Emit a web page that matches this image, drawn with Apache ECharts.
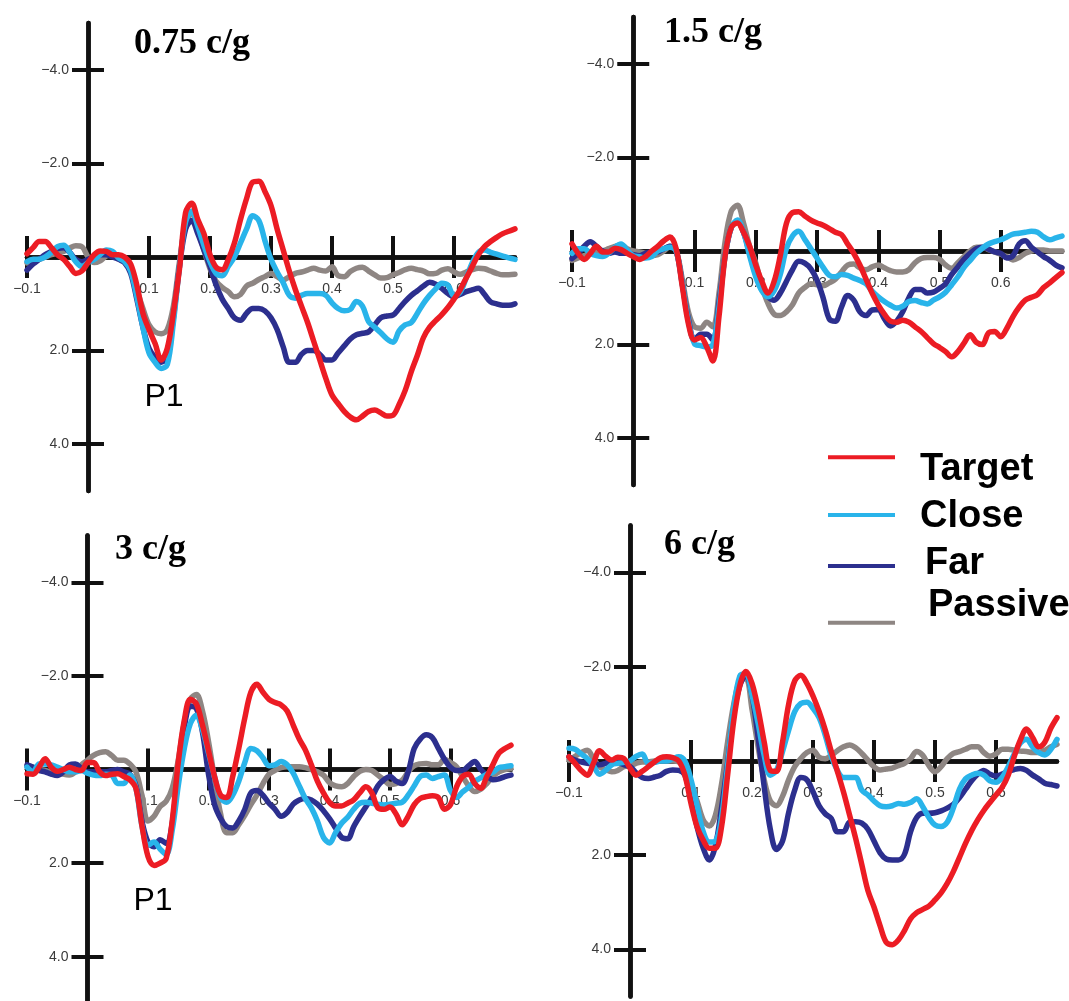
<!DOCTYPE html>
<html><head><meta charset="utf-8">
<script src="https://cdn.jsdelivr.net/npm/echarts@6/dist/echarts.min.js"></script>
<style>html,body{margin:0;padding:0;background:#fff}#c{width:1069px;height:1001px}</style>
</head><body><div id="c"></div>
<script>
// ---------------- DATA ----------------
const times = [-0.1,-0.09,-0.08,-0.07,-0.06,-0.05,-0.04,-0.03,-0.02,-0.01,
  0,0.01,0.02,0.03,0.04,0.05,0.06,0.07,0.08,0.09,
  0.1,0.11,0.12,0.13,0.14,0.15,0.16,0.17,0.18,0.19,
  0.2,0.21,0.22,0.23,0.24,0.25,0.26,0.27,0.28,0.29,
  0.3,0.31,0.32,0.33,0.34,0.35,0.36,0.37,0.38,0.39,
  0.4,0.41,0.42,0.43,0.44,0.45,0.46,0.47,0.48,0.49,
  0.5,0.51,0.52,0.53,0.54,0.55,0.56,0.57,0.58,0.59,
  0.6,0.61,0.62,0.63,0.64,0.65,0.66,0.67,0.68,0.69,
  0.7];
const xTickValues = [-0.1,0.1,0.2,0.3,0.4,0.5,0.6];
const yTickValues = [-4,-2,2,4];
const panelTitles = ['0.75 c/g','1.5 c/g','3 c/g','6 c/g'];
const seriesNames = ['Target','Close','Far','Passive'];
const peakLabel = 'P1';

// 0.75 c/g
const target075 = [-0.07,-0.2,-0.33,-0.33,-0.2,-0.05,0.05,0.2,0.35,0.3,
  0.12,-0.05,-0.13,-0.12,-0.05,-0.05,0.0,0.15,0.6,1.2,
  1.55,1.85,2.2,1.95,1.2,0.25,-0.95,-1.15,-0.8,-0.5,
  -0.05,0.22,0.27,0.05,-0.3,-0.8,-1.25,-1.6,-1.62,-1.4,
  -1.1,-0.6,-0.15,0.3,0.7,1.05,1.4,1.8,2.2,2.6,
  2.95,3.13,3.3,3.42,3.48,3.4,3.3,3.27,3.33,3.4,
  3.38,3.15,2.85,2.45,2.1,1.72,1.5,1.36,1.23,1.08,
  0.9,0.7,0.45,0.2,-0.05,-0.22,-0.33,-0.42,-0.5,-0.55,
  -0.6];
const close075 = [0.1,0.05,0.05,0.0,-0.1,-0.22,-0.25,-0.1,0.1,0.2,
  0.12,0.05,-0.05,-0.15,-0.12,0.02,0.1,0.3,0.85,1.5,
  2.05,2.25,2.38,2.3,1.4,0.2,-0.75,-0.98,-0.65,-0.25,
  0.1,0.35,0.4,0.2,0.0,-0.3,-0.6,-0.88,-0.78,-0.35,
  0.05,0.32,0.55,0.82,0.88,0.82,0.78,0.78,0.78,0.82,
  0.98,1.1,1.15,1.12,0.95,1.05,1.38,1.5,1.62,1.75,
  1.82,1.58,1.45,1.4,1.2,0.99,0.82,0.68,0.56,0.6,
  0.83,0.75,0.45,0.12,-0.1,-0.15,-0.1,-0.06,-0.02,0.02,
  0.05];
const far075 = [0.28,0.15,0.05,-0.05,-0.12,-0.18,-0.2,-0.1,0.05,0.1,
  0.05,0.0,-0.05,-0.05,0.0,0.05,0.12,0.35,0.9,1.5,
  1.95,2.15,2.25,2.1,1.3,0.2,-0.6,-0.78,-0.5,-0.15,
  0.2,0.6,0.9,1.1,1.3,1.35,1.2,1.1,1.1,1.15,
  1.3,1.55,1.92,2.25,2.25,2.08,2.0,2.0,2.08,2.2,
  2.2,2.05,1.9,1.75,1.66,1.63,1.6,1.45,1.3,1.26,
  1.24,1.1,0.95,0.82,0.72,0.62,0.54,0.58,0.67,0.78,
  0.85,0.8,0.74,0.7,0.67,0.8,0.96,1.0,1.03,1.03,
  1.0];
const passive075 = [0.13,0.1,0.05,0.0,-0.05,-0.08,-0.12,-0.19,-0.24,-0.22,
  0.0,0.12,0.08,-0.02,-0.05,0.0,0.1,0.3,0.7,1.1,
  1.45,1.6,1.64,1.55,1.05,0.1,-0.7,-0.95,-0.6,-0.15,
  0.25,0.52,0.65,0.74,0.85,0.8,0.62,0.56,0.48,0.42,
  0.35,0.42,0.49,0.42,0.35,0.32,0.28,0.24,0.28,0.3,
  0.21,0.4,0.42,0.31,0.24,0.22,0.3,0.38,0.45,0.44,
  0.38,0.33,0.27,0.24,0.27,0.3,0.36,0.35,0.28,0.25,
  0.32,0.37,0.32,0.27,0.24,0.25,0.3,0.35,0.38,0.38,
  0.37];

// 1.5 c/g
const target15 = [-0.15,0.05,0.18,0.05,-0.1,0.02,0.02,-0.06,-0.03,0.05,
  0.12,0.18,0.12,0.0,-0.1,-0.22,-0.3,-0.05,0.75,1.55,
  1.9,1.85,2.05,2.35,1.4,0.1,-0.5,-0.6,-0.4,-0.1,
  0.3,0.65,0.9,0.65,0.1,-0.59,-0.82,-0.84,-0.75,-0.66,
  -0.6,-0.55,-0.48,-0.4,-0.35,-0.15,0.05,0.3,0.6,0.9,
  1.15,1.35,1.5,1.52,1.48,1.52,1.62,1.72,1.85,1.98,
  2.06,2.15,2.26,2.15,1.97,1.79,1.95,2.0,1.75,1.72,
  1.83,1.65,1.4,1.2,1.05,0.99,0.93,0.78,0.68,0.57,
  0.46];
const close15 = [0.05,-0.05,-0.05,0.05,0.1,0.12,0.05,-0.08,-0.15,-0.02,
  0.1,0.12,0.15,0.12,0.0,-0.05,-0.08,0.0,0.7,1.5,
  1.98,2.02,2.05,2.0,1.2,0.1,-0.5,-0.66,-0.4,0.1,
  0.55,0.85,0.98,0.85,0.5,-0.05,-0.32,-0.42,-0.25,-0.05,
  0.15,0.35,0.52,0.55,0.5,0.52,0.58,0.63,0.7,0.86,
  0.98,1.08,1.16,1.22,1.18,1.08,1.06,1.1,1.13,1.05,
  0.98,0.88,0.72,0.55,0.35,0.2,0.05,-0.06,-0.15,-0.2,
  -0.24,-0.3,-0.36,-0.38,-0.4,-0.42,-0.4,-0.3,-0.24,-0.28,
  -0.32];
const far15 = [0.16,0.05,-0.1,-0.2,-0.1,0.0,0.05,0.02,0.05,0.05,
  0.08,0.1,0.05,0.02,0.02,-0.05,-0.1,0.0,0.7,1.45,
  1.9,1.78,1.78,1.9,1.1,0.1,-0.5,-0.62,-0.4,0.05,
  0.5,0.82,0.98,1.05,0.9,0.65,0.4,0.22,0.26,0.38,
  0.62,1.0,1.45,1.5,1.2,0.95,1.05,1.3,1.38,1.26,
  1.25,1.45,1.6,1.5,1.3,1.0,0.82,0.82,0.9,0.88,
  0.8,0.7,0.5,0.34,0.18,0.05,-0.05,-0.08,-0.04,0.02,
  0.05,0.15,0.1,-0.15,-0.22,-0.08,0.02,0.12,0.2,0.3,
  0.36];
const passive15 = [0.2,0.15,0.1,0.05,0.02,0.0,-0.05,-0.1,-0.13,-0.05,
  0.0,0.02,0.05,0.1,0.08,0.0,-0.1,0.0,0.6,1.3,
  1.62,1.65,1.52,1.62,0.9,-0.2,-0.85,-0.98,-0.6,-0.1,
  0.25,0.75,1.12,1.35,1.38,1.3,1.15,0.9,0.78,0.7,
  0.72,0.74,0.68,0.6,0.45,0.3,0.28,0.36,0.4,0.34,
  0.3,0.36,0.42,0.45,0.45,0.4,0.25,0.16,0.14,0.14,
  0.18,0.3,0.37,0.25,0.12,0.0,-0.08,-0.08,-0.03,0.02,
  0.07,0.12,0.19,0.14,0.05,0.0,-0.02,-0.02,0.0,0.0,
  0.0];

// 3 c/g
const target3 = [0.09,0.1,-0.05,-0.23,-0.05,0.04,0.0,-0.05,0.0,0.02,
  -0.15,-0.15,0.05,0.13,0.1,0.09,0.15,0.22,0.4,1.2,
  1.86,2.05,2.0,1.9,1.1,-0.15,-1.05,-1.5,-1.4,-0.95,
  -0.4,0.15,0.55,0.6,0.15,-0.45,-1.1,-1.65,-1.82,-1.65,
  -1.5,-1.43,-1.38,-1.25,-0.95,-0.65,-0.42,-0.1,0.25,0.5,
  0.7,0.78,0.78,0.72,0.65,0.5,0.37,0.5,0.82,0.85,
  0.8,0.95,1.18,1.0,0.75,0.62,0.58,0.56,0.6,0.85,
  0.75,0.37,0.15,0.1,0.3,0.4,0.15,-0.1,-0.35,-0.45,
  -0.52];
const close3 = [-0.05,0.05,-0.12,-0.12,-0.1,-0.05,0.0,0.05,0.05,0.02,
  0.08,0.12,0.13,0.1,0.12,0.3,0.3,0.12,0.4,1.2,
  1.62,1.55,1.7,1.82,1.3,0.35,-0.45,-0.98,-1.16,-0.85,
  -0.35,0.15,0.6,0.7,0.55,0.25,-0.15,-0.45,-0.4,-0.25,
  -0.08,-0.1,-0.17,-0.1,0.08,0.35,0.62,0.82,1.1,1.45,
  1.57,1.35,1.15,1.02,0.85,0.72,0.7,0.72,0.74,0.76,
  0.74,0.72,0.7,0.55,0.35,0.15,0.12,0.19,0.15,0.12,
  0.45,0.6,0.48,0.38,0.25,0.18,0.1,0.06,-0.04,-0.06,
  -0.08];
const far3 = [-0.1,-0.05,0.02,0.05,0.1,0.13,0.05,-0.1,-0.12,-0.02,
  0.05,0.05,0.05,0.05,0.02,0.0,0.05,0.1,0.35,1.1,
  1.55,1.65,1.5,1.58,1.15,0.0,-0.9,-1.35,-1.3,-0.8,
  0.1,0.75,1.05,1.22,1.25,1.1,0.85,0.5,0.45,0.55,
  0.72,0.85,1.0,0.92,0.74,0.65,0.62,0.65,0.74,0.88,
  1.05,1.25,1.45,1.48,1.22,1.0,0.8,0.6,0.35,0.22,
  0.15,0.25,0.3,0.05,-0.45,-0.65,-0.74,-0.68,-0.45,-0.22,
  -0.05,0.02,0.02,-0.08,-0.17,0.0,0.12,0.22,0.2,0.15,
  0.12];
const passive3 = [-0.06,-0.05,0.0,0.02,0.05,0.05,0.1,0.12,0.05,-0.1,
  -0.2,-0.3,-0.36,-0.38,-0.3,-0.2,-0.2,-0.12,0.05,0.55,
  1.1,1.0,0.79,0.68,0.4,-0.2,-1.0,-1.5,-1.6,-1.25,
  -0.6,0.2,0.95,1.35,1.35,1.18,0.98,0.75,0.55,0.3,
  0.1,0.02,-0.04,-0.06,-0.06,-0.06,-0.04,0.0,0.05,0.12,
  0.28,0.35,0.37,0.3,0.15,0.04,0.0,0.02,0.12,0.22,
  0.32,0.3,0.23,0.05,-0.08,-0.12,-0.13,-0.1,-0.1,-0.22,
  -0.15,-0.06,0.15,0.35,0.47,0.42,0.3,0.14,0.05,0.0,
  -0.02];

// 6 c/g
const target6 = [-0.09,0.05,0.2,0.3,0.05,-0.22,-0.1,-0.02,-0.08,-0.05,
  0.15,0.3,0.22,0.12,0.02,-0.07,-0.09,-0.07,0.0,0.3,
  0.9,1.4,1.68,1.85,1.85,1.4,0.3,-0.85,-1.6,-1.9,
  -1.65,-1.1,-0.4,0.2,0.22,-0.4,-1.2,-1.7,-1.82,-1.65,
  -1.38,-1.05,-0.66,-0.2,0.22,0.66,1.15,1.65,2.2,2.75,
  3.1,3.5,3.85,3.9,3.8,3.6,3.35,3.22,3.15,3.08,
  2.95,2.8,2.6,2.35,2.05,1.75,1.48,1.25,1.05,0.88,
  0.72,0.56,0.3,-0.1,-0.45,-0.68,-0.5,-0.3,-0.4,-0.7,
  -0.92];
const close6 = [-0.27,-0.25,-0.15,-0.05,0.1,0.28,0.2,0.08,0.05,0.03,
  0.0,-0.1,-0.15,0.05,0.03,0.0,0.0,-0.05,-0.09,0.0,
  0.4,0.95,1.5,1.72,1.7,1.2,0.1,-1.1,-1.8,-1.85,
  -1.4,-0.8,-0.12,0.3,0.2,-0.2,-0.65,-1.05,-1.22,-1.25,
  -1.12,-0.92,-0.55,-0.1,0.2,0.35,0.35,0.35,0.62,0.72,
  0.85,0.95,0.97,0.95,0.9,0.92,0.88,0.8,0.97,1.2,
  1.36,1.39,1.3,1.0,0.6,0.38,0.3,0.26,0.3,0.42,
  0.45,0.35,0.12,-0.15,-0.38,-0.46,-0.3,-0.18,-0.13,-0.25,
  -0.46];
const far6 = [-0.09,-0.02,0.02,0.05,0.06,0.08,0.05,0.0,0.02,0.08,
  0.12,0.25,0.35,0.37,0.34,0.3,0.22,0.19,0.2,0.3,
  0.8,1.4,1.85,2.1,1.8,1.0,0.05,-1.0,-1.6,-1.83,
  -1.4,-0.5,0.55,1.45,1.88,1.7,1.1,0.62,0.35,0.4,
  0.65,0.95,1.12,1.22,1.5,1.5,1.3,1.29,1.32,1.45,
  1.7,1.95,2.08,2.1,2.1,1.98,1.5,1.2,1.11,1.11,
  1.1,1.06,1.0,0.92,0.78,0.6,0.42,0.28,0.2,0.28,
  0.32,0.28,0.22,0.18,0.16,0.2,0.3,0.38,0.47,0.5,
  0.53];
const passive6 = [-0.02,-0.1,-0.18,-0.23,-0.05,0.12,0.18,0.23,0.2,0.12,
  0.1,0.05,0.02,0.02,0.0,0.0,0.0,0.0,0.02,0.2,
  0.5,0.85,1.25,1.38,1.15,0.5,-0.4,-1.2,-1.7,-1.75,
  -1.1,-0.3,0.4,0.85,0.95,0.75,0.4,0.12,-0.05,-0.18,
  -0.23,-0.08,-0.05,-0.12,-0.22,-0.3,-0.34,-0.28,-0.16,-0.02,
  0.12,0.19,0.17,0.15,0.1,0.05,-0.05,-0.2,-0.12,0.1,
  0.23,0.12,-0.05,-0.16,-0.2,-0.25,-0.3,-0.3,-0.18,-0.1,
  -0.15,-0.25,-0.25,-0.23,-0.21,-0.2,-0.18,-0.18,-0.23,-0.3,
  -0.35];

// ---------------- LAYOUT / STYLE ----------------
const panels = [
  {Target: target075, Close: close075, Far: far075, Passive: passive075},
  {Target: target15,  Close: close15,  Far: far15,  Passive: passive15},
  {Target: target3,   Close: close3,   Far: far3,   Passive: passive3},
  {Target: target6,   Close: close6,   Far: far6,   Passive: passive6}
];
const X_MIN = -0.1, X_MAX = 0.7, Y_MIN = -5, Y_MAX = 5;
const grids = [
  {left: 27,  top: 23,    width: 488, height: 468},
  {left: 572, top: 17,    width: 490, height: 468},
  {left: 27,  top: 535.5, width: 484, height: 468},
  {left: 569, top: 525.5, width: 488, height: 471}
];
const titlePos = [[134, 26], [664, 15], [115, 532], [664, 527]];
const colors = {Target: '#ec1c24', Close: '#29b4ea', Far: '#2c2f8e', Passive: '#8e8683'};
const drawOrder = ['Passive', 'Far', 'Close', 'Target'];
const AX = '#111';

function fmt(v) {
  if (Math.abs(v) < 1e-9) return '';
  return (v < 0 ? '\u2212' : '') + Math.abs(v).toFixed(1);
}

const xAxes = [], yAxes = [], series = [];
grids.forEach((g, gi) => {
  // axes cross at zero: shift them from the grid edge into the plot
  const yOff = -g.width * (0 - X_MIN) / (X_MAX - X_MIN);
  const xOff = -g.height * (Y_MAX - 0) / (Y_MAX - Y_MIN);
  [false, true].forEach(inside => {
    xAxes.push({
      gridIndex: gi, type: 'value', min: X_MIN, max: X_MAX, position: 'bottom', offset: xOff,
      axisLine: {show: true, onZero: false, lineStyle: {color: AX, width: 4.5}},
      axisTick: {show: true, inside: inside, length: 21, customValues: xTickValues,
                 lineStyle: {color: AX, width: 4}},
      axisLabel: {show: !inside, customValues: xTickValues, formatter: fmt, margin: 25,
                  fontSize: 14, color: '#3a3a3a', fontFamily: 'Liberation Sans, Arial, sans-serif'},
      splitLine: {show: false}
    });
    yAxes.push({
      gridIndex: gi, type: 'value', min: Y_MIN, max: Y_MAX, inverse: true, position: 'left', offset: yOff,
      axisLine: {show: true, onZero: false, lineStyle: {color: AX, width: 4.5}},
      axisTick: {show: true, inside: inside, length: 16, customValues: yTickValues,
                 lineStyle: {color: AX, width: 4}},
      axisLabel: {show: !inside, customValues: yTickValues, formatter: fmt, margin: 19,
                  fontSize: 14, color: '#3a3a3a', fontFamily: 'Liberation Sans, Arial, sans-serif'},
      splitLine: {show: false}
    });
  });
  drawOrder.forEach(name => {
    const vals = panels[gi][name];
    series.push({
      type: 'line', name: name, xAxisIndex: gi * 2, yAxisIndex: gi * 2,
      data: times.map((t, i) => [t, vals[i]]),
      showSymbol: false, symbol: 'none', smooth: 0.35, silent: true,
      color: colors[name],
      lineStyle: {color: colors[name], width: 5.5, cap: 'round', join: 'round'},
      emphasis: {disabled: true}
    });
  });
});

// legend: line sample position vs text position
const legendLayout = [
  {name: 'Target',  lx: 828, ly: 457.3, tx: 920, cy: 470},
  {name: 'Close',   lx: 828, ly: 515,   tx: 920, cy: 516.7},
  {name: 'Far',     lx: 828, ly: 566,   tx: 925, cy: 563.3},
  {name: 'Passive', lx: 828, ly: 622.7, tx: 928, cy: 605.8}
];
const LINE_LEN = 67, ICON_H = 60;
function iconPath(W, H, y0, L) {
  return 'path://M0 ' + y0 + 'H' + L + 'V' + (y0 + 4) + 'H0Z' +
    ' M0 0H0.01V0.01H0Z M' + (W - 0.01) + ' ' + (H - 0.01) + 'H' + W + 'V' + H + 'H' + (W - 0.01) + 'Z';
}
const legends = legendLayout.map(s => {
  const W = s.tx - 5 - s.lx;
  const y0 = ICON_H / 2 + (s.ly - s.cy) - 2;
  return {
    data: [s.name], left: s.lx, top: s.cy - ICON_H / 2, padding: 0, orient: 'vertical',
    itemWidth: W, itemHeight: ICON_H, icon: iconPath(W, ICON_H, y0, LINE_LEN),
    itemStyle: {borderWidth: 0}, selectedMode: false,
    textStyle: {fontSize: 38, fontWeight: 'bold', color: '#000',
                fontFamily: 'Liberation Sans, Arial, sans-serif'}
  };
});

const chart = echarts.init(document.getElementById('c'), null, {renderer: 'canvas'});
chart.setOption({
  backgroundColor: '#fff',
  animation: false,
  title: panelTitles.map((t, i) => ({
    text: t, left: titlePos[i][0], top: titlePos[i][1], padding: 0,
    textStyle: {fontFamily: 'Liberation Serif, Times New Roman, serif', fontWeight: 'bold',
                fontSize: 36, color: '#000'}
  })),
  legend: legends,
  grid: grids.map(g => Object.assign({containLabel: false, outerBoundsMode: 'none'}, g)),
  xAxis: xAxes,
  yAxis: yAxes,
  series: series,
  graphic: [
    {type: 'text', x: 164, y: 397.5, silent: true,
     style: {text: peakLabel, fontSize: 32, fontFamily: 'Liberation Sans, Arial, sans-serif',
             fill: '#000', align: 'center', verticalAlign: 'middle'}},
    {type: 'text', x: 153, y: 901, silent: true,
     style: {text: peakLabel, fontSize: 32, fontFamily: 'Liberation Sans, Arial, sans-serif',
             fill: '#000', align: 'center', verticalAlign: 'middle'}}
  ]
});
</script>
</body></html>
